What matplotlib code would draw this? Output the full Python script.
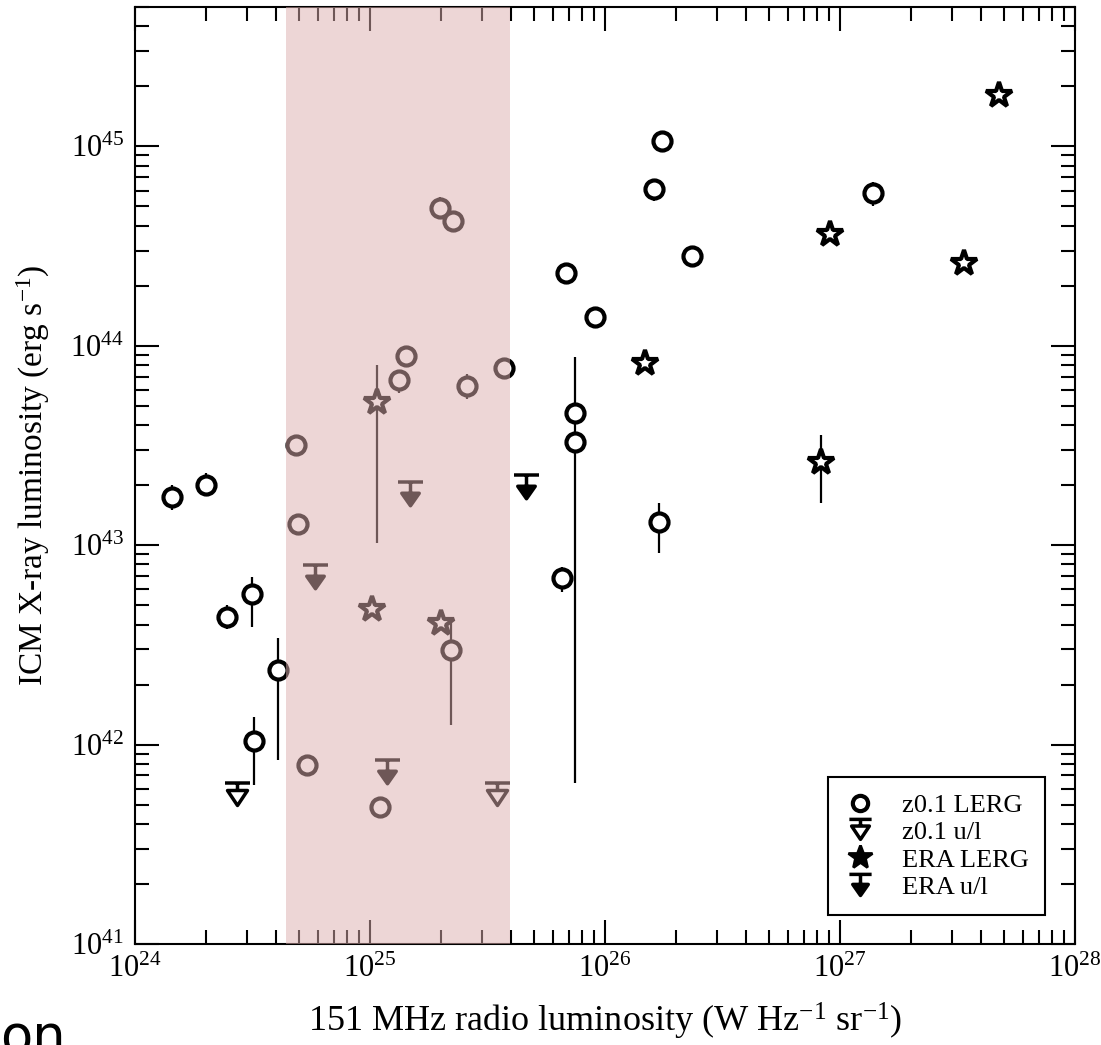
import matplotlib
matplotlib.use("Agg")
import matplotlib.pyplot as plt
from matplotlib.path import Path
from matplotlib.lines import Line2D

plt.rcParams["font.family"] = ["Liberation Serif", "DejaVu Serif"]
plt.rcParams["mathtext.fontset"] = "custom"
plt.rcParams["mathtext.rm"] = "Liberation Serif"
plt.rcParams["mathtext.it"] = "Liberation Serif:italic"

# z0.1 LERG (circles): radio lum, X-ray lum, error-bar ends
lerg_x = [1.44e24, 2.0e24, 2.46e24, 3.15e24, 3.2e24, 4.06e24, 4.84e24, 4.94e24, 5.4e24,
          1.1e25, 1.33e25, 1.42e25, 1.99e25, 2.25e25, 2.59e25, 3.72e25, 2.21e25,
          6.82e25, 9.06e25, 7.45e25, 7.45e25, 6.56e25, 1.7e26, 1.75e26, 1.62e26,
          2.35e26, 1.38e27]
lerg_y = [1.74e43, 2.0e43, 4.35e42, 5.7e42, 1.04e42, 2.36e42, 3.17e43, 1.27e43, 7.9e41,
          4.86e41, 6.7e43, 8.86e43, 4.89e44, 4.2e44, 6.27e43, 7.7e43, 2.98e42,
          2.33e44, 1.39e44, 4.6e43, 3.28e43, 6.84e42, 1.3e43, 1.07e45, 6.1e44,
          2.81e44, 5.81e44]
lerg_lo = [1.5e43, 1.8e43, 3.8e42, 3.9e42, 6.3e41, 8.4e41, 3.1e43, 1.2e43, 7.6e41,
           4.7e41, 5.8e43, 7.9e43, 4.3e44, 4.15e44, 5.4e43, 7.5e43, 1.25e42,
           2.3e44, 1.37e44, 3.6e43, 6.4e41, 5.8e42, 9.1e42, 1.05e45, 5.3e44,
           2.78e44, 5.0e44]
lerg_hi = [2.0e43, 2.3e43, 5.0e42, 6.9e42, 1.37e42, 3.42e42, 3.3e43, 1.32e43, 8.2e41,
           5.0e41, 7.3e43, 1.0e44, 5.6e44, 4.3e44, 7.2e43, 8.0e43, 4.2e42,
           2.45e44, 1.42e44, 8.75e43, 3.5e43, 7.8e42, 1.63e43, 1.1e45, 6.9e44,
           2.9e44, 6.6e44]

# ERA LERG (stars)
era_x = [1.07e25, 1.02e25, 2.0e25, 1.48e26, 9.06e26, 8.3e26, 3.37e27, 4.75e27]
era_y = [5.2e43, 4.78e42, 4.06e42, 8.17e43, 3.62e44, 2.6e43, 2.59e44, 1.82e45]
era_lo = [1.02e43, 4.6e42, 3.9e42, 7.6e43, 3.45e44, 1.63e43, 2.45e44, 1.75e45]
era_hi = [8.0e43, 5.1e42, 4.3e42, 9.0e43, 3.9e44, 3.56e43, 2.8e44, 1.95e45]

# upper limits
ul_z_x = [2.72e24, 3.47e25]
ul_z_y = [5.6e41, 5.6e41]
ul_era_x = [5.84e24, 1.18e25, 1.48e25, 4.6e25]
ul_era_y = [6.9e42, 7.3e41, 1.8e43, 1.95e43]

# shaded radio luminosity band
band = (4.4e24, 3.95e25)

# custom markers: bar + triangle, bar + arrow
tri_path = Path(
    [(-0.5, 0.5), (0.5, 0.5), (0, 0.5), (0, 0.2),
     (-0.4, 0.2), (0.4, 0.2), (0, -0.4), (-0.4, 0.2)],
    [Path.MOVETO, Path.LINETO, Path.MOVETO, Path.LINETO,
     Path.MOVETO, Path.LINETO, Path.LINETO, Path.CLOSEPOLY])
arrow_path = Path(
    [(-0.5, 0.5), (0.5, 0.5), (0, 0.5), (0, -0.1),
     (-0.35, 0.05), (0.35, 0.05), (0, -0.45), (-0.35, 0.05)],
    [Path.MOVETO, Path.LINETO, Path.MOVETO, Path.LINETO,
     Path.MOVETO, Path.LINETO, Path.LINETO, Path.CLOSEPOLY])

fig = plt.figure(figsize=(11.01, 10.45), dpi=100)
ax = fig.add_axes([0.1226, 0.0967, 0.8538, 0.8966])
ax.set_xscale("log")
ax.set_yscale("log")

def errs(y, lo, hi):
    return [[a - b for a, b in zip(y, lo)], [b - a for a, b in zip(y, hi)]]

ax.errorbar(lerg_x, lerg_y, yerr=errs(lerg_y, lerg_lo, lerg_hi), fmt="o",
            ms=13, mfc="white", mec="black", mew=3, ecolor="black", elinewidth=1.6,
            capsize=0, zorder=3)
ax.errorbar(era_x, era_y, yerr=errs(era_y, era_lo, era_hi), fmt="*",
            ms=19, mfc="white", mec="black", mew=3, ecolor="black", elinewidth=1.6,
            capsize=0, zorder=3)
ax.plot(ul_z_x, ul_z_y, ls="none", marker=tri_path, ms=18, mfc="white",
        mec="black", mew=2.5, zorder=3)
ax.plot(ul_era_x, ul_era_y, ls="none", marker=arrow_path, ms=18, mfc="black",
        mec="black", mew=2.5, zorder=3)

ax.axvspan(band[0], band[1], color="#ddaeae", alpha=0.5, lw=0, zorder=4)

ax.set_xlim(1e24, 1e28)
ax.set_ylim(1e41, 5e45)
ax.tick_params(which="both", direction="in", top=True, right=True,
               labelsize=22, width=1.5, pad=8)
ax.tick_params(which="major", length=17)
ax.tick_params(which="minor", length=10)
for s in ax.spines.values():
    s.set_linewidth(1.5)

ax.set_xlabel(r"151 MHz radio luminosity (W Hz$^{-1}$ sr$^{-1}$)", fontsize=26, labelpad=12)
ax.set_ylabel(r"ICM X-ray luminosity (erg s$^{-1}$)", fontsize=24, labelpad=13)

handles = [
    Line2D([], [], ls="none", marker="o", ms=11, mfc="white", mec="black", mew=3),
    Line2D([], [], ls="none", marker=tri_path, ms=16, mfc="white", mec="black", mew=2.5),
    Line2D([], [], ls="none", marker="*", ms=18, mfc="black", mec="black", mew=2),
    Line2D([], [], ls="none", marker=arrow_path, ms=16, mfc="black", mec="black", mew=2.5),
]
labels = ["z0.1 LERG", "z0.1 u/l", "ERA LERG", "ERA u/l"]
leg = ax.legend(handles, labels, loc="lower right", bbox_to_anchor=(0.968, 0.031),
                borderaxespad=0, fontsize=19, fancybox=False, edgecolor="black",
                framealpha=1, handlelength=1.2, handletextpad=1.0, labelspacing=0.15,
                borderpad=0.6)
leg.get_frame().set_linewidth(1.5)

fig.text(0.0, -0.008, "on", fontsize=38, family="DejaVu Sans", ha="left", va="baseline")

fig.savefig("out.png", dpi=100)
